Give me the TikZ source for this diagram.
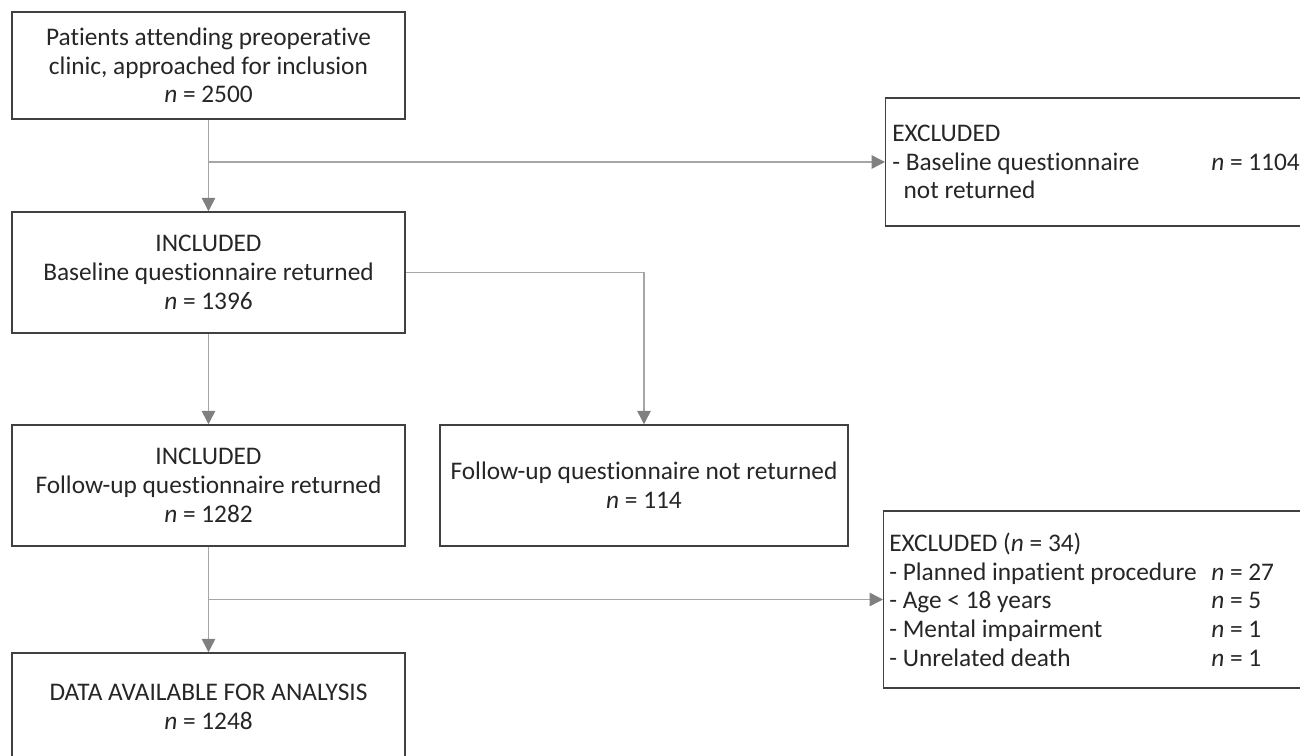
\documentclass[tikz,border=0pt]{standalone}
\usepackage{fontspec}
\setmainfont{Carlito}[Ligatures={NoCommon}]
\usetikzlibrary{arrows.meta,calc}
\definecolor{txt}{HTML}{262626}
\definecolor{boxline}{HTML}{404040}
\definecolor{conn}{HTML}{A6A6A6}
\definecolor{tip}{HTML}{808080}
\newcommand\lcol[2]{\makebox[#1][l]{#2}}
\begin{document}
\begin{tikzpicture}[x=0.75pt,y=-0.75pt,
  every node/.style={font=\fontsize{19pt}{21.5pt}\selectfont, text=txt},
  flowbox/.style={draw=boxline, line width=1.1pt, rectangle, inner sep=0pt,
    minimum height=#1*0.75pt, align=center},
  boxtext/.style={inner sep=0pt, align=left, anchor=west},
  conn/.style={draw=conn, line width=1.1pt,
    -{Triangle[length=10pt,width=10pt,color=tip]}}]
\useasboundingbox (0,0) rectangle (1300,756);
\clip (0,0) rectangle (1300,756);

\node[flowbox=107, minimum width=393*0.75pt] (top) at (208.5,65.5)
  {Patients attending preoperative\\clinic, approached for inclusion\\\textit{n} = 2500};
\node[flowbox=121, minimum width=393*0.75pt] (inc1) at (208.5,272.5)
  {INCLUDED\\Baseline questionnaire returned\\\textit{n} = 1396};
\node[flowbox=121, minimum width=393*0.75pt] (inc2) at (208.5,485.5)
  {INCLUDED\\Follow-up questionnaire returned\\\textit{n} = 1282};
\node[flowbox=121, minimum width=408*0.75pt] (notret) at (644,485.5)
  {Follow-up questionnaire not returned\\\textit{n} = 114};
\node[flowbox=108, minimum width=393*0.75pt] (data) at (208.5,707)
  {DATA AVAILABLE FOR ANALYSIS\\\textit{n} = 1248};

\node[flowbox=128, minimum width=435*0.75pt, anchor=west] (exc1) at (885,162) {};
\node[boxtext] (exc1t) at ([xshift=7*0.75pt]exc1.west)
  {EXCLUDED\\
   \lcol{239.25pt}{- Baseline questionnaire}\textit{n} = 1104\\
   \hspace*{0.45em}not returned};
\node[flowbox=177, minimum width=437*0.75pt, anchor=west] (exc2) at (883,599.5) {};
\node[boxtext] (exc2t) at ([xshift=6*0.75pt]exc2.west)
  {EXCLUDED (\textit{n} = 34)\\
   \lcol{241.5pt}{- Planned inpatient procedure}\textit{n} = 27\\
   \lcol{241.5pt}{- Age < 18 years}\textit{n} = 5\\
   \lcol{241.5pt}{- Mental impairment}\textit{n} = 1\\
   \lcol{241.5pt}{- Unrelated death}\textit{n} = 1};

\coordinate (b1) at (top.south |- exc1.west);
\coordinate (b2) at (inc2.south |- exc2.west);

\draw[conn] (top.south) -- (inc1.north);
\draw[conn] (b1) -- (exc1.west);
\draw[conn] (inc1.east) -| (notret.north);
\draw[conn] (inc1.south) -- (inc2.north);
\draw[conn] (inc2.south) -- (data.north);
\draw[conn] (b2) -- (exc2.west);
\end{tikzpicture}
\end{document}
